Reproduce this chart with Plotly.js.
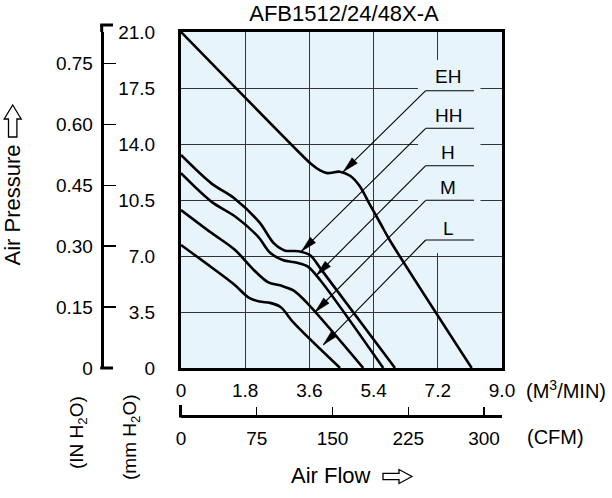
<!DOCTYPE html>
<html><head><meta charset="utf-8">
<script src="https://cdn.plot.ly/plotly-3.0.1.min.js"></script>
<style>html,body{margin:0;padding:0;background:#fff}#chart{width:612px;height:498px}</style>
</head><body><div id="chart"></div>
<script>
// ---- data (flow in m3/min, static pressure in mmH2O) ----
const curveNames = ['EH', 'HH', 'H', 'M', 'L'];
const flowEH = [0, 3.3, 3.65, 3.9, 4.1, 4.45, 4.75, 5.0, 5.3, 5.6, 5.85, 8.15];
const presEH = [21, 13.5, 12.75, 12.35, 12.18, 12.27, 12.0, 11.4, 10.2, 9.0, 8.0, 0];
const flowHH = [0, 0.85, 1.5, 2.2, 2.6, 2.9, 3.3, 3.62, 3.95, 6.0];
const presHH = [13.31, 11.54, 10.6, 9.1, 7.8, 7.35, 7.3, 7.05, 6.1, 0];
const flowH = [0, 0.85, 1.5, 2.16, 2.5, 2.85, 3.25, 3.55, 3.9, 5.67];
const presH = [12.17, 10.4, 9.5, 8.21, 7.2, 6.75, 6.58, 6.35, 5.5, 0];
const flowM = [0, 0.85, 1.5, 2.1, 2.45, 2.8, 3.15, 3.5, 5.11];
const presM = [9.875, 8.45, 7.4, 6.0, 5.35, 5.15, 4.85, 4.15, 0];
const flowL = [0, 0.85, 1.5, 1.9, 2.2, 2.5, 2.8, 3.15, 4.46];
const presL = [7.69, 6.3, 5.2, 4.4, 4.15, 4.07, 3.8, 2.85, 0];

// label call-outs: arrow tip on each curve (m3/min, mmH2O)
const tipFlow = [4.55, 3.38, 3.80, 3.76, 3.99];
const tipPres = [12.27, 7.3, 5.8, 3.5, 1.45];

// ticks
const mmTicks = [0, 3.5, 7, 10.5, 14, 17.5, 21];
const mmTickText = ['0', '3.5', '7.0', '10.5', '14.0', '17.5', '21.0'];
const inTicks = [0, 0.15, 0.30, 0.45, 0.60, 0.75];
const inTickText = ['0', '0.15', '0.30', '0.45', '0.60', '0.75'];
const m3Ticks = [0, 1.8, 3.6, 5.4, 7.2, 9];
const m3TickText = ['0', '1.8', '3.6', '5.4', '7.2', '9.0'];
const cfmTicks = [0, 75, 150, 225, 300];
const cfmTickText = ['0', '75', '150', '225', '300'];

const MM_PER_IN = 25.4, CFM_PER_M3MIN = 35.3147;
const XMAX = 9, YMAX = 21;

// ---- layout geometry ----
const W = 612, H = 498;
const M = {l: 60, r: 110, t: 20, b: 50};
const pw = W - M.l - M.r, ph = H - M.t - M.b;
const px2paperX = p => (p - M.l) / pw;
const px2paperY = p => (H - M.b - p) / ph;
const plotL = 181, plotR = 502, plotT = 32, plotB = 368;
const xToPx = v => plotL + v / XMAX * (plotR - plotL);
const yToPx = v => plotB - v / YMAX * (plotB - plotT);
const pxToX = p => (p - plotL) / (plotR - plotL) * XMAX;
const pxToY = p => (plotB - p) / (plotB - plotT) * YMAX;

const BG = '#e8f4fc';
const font = {family: 'Liberation Sans, Arial, Helvetica, sans-serif', size: 19, color: '#000'};

const flows = [flowEH, flowHH, flowH, flowM, flowL];
const press = [presEH, presHH, presH, presM, presL];
const traces = curveNames.map((n, i) => ({
  type: 'scatter', mode: 'lines', name: n, x: flows[i], y: press[i],
  line: {color: '#000', width: 2.6, shape: 'spline', smoothing: 0.9},
  showlegend: false, hoverinfo: 'skip'
}));
// register secondary-scale subplots
traces.push({type: 'scatter', x: [null], y: [null], xaxis: 'x', yaxis: 'y2', showlegend: false, hoverinfo: 'skip'});
traces.push({type: 'scatter', x: [null], y: [null], xaxis: 'x2', yaxis: 'y', showlegend: false, hoverinfo: 'skip'});

const shapes = [];
// gap in grid behind the call-out labels
shapes.push({type: 'rect', xref: 'x', yref: 'y', layer: 'between',
  x0: pxToX(418), x1: pxToX(480.5), y0: pxToY(253), y1: pxToY(60),
  fillcolor: BG, line: {width: 0}});

const labelX0 = pxToX(425.7), labelX1 = pxToX(474), labelCX = pxToX(448);
const leaderPx = [90.7, 128.3, 165.7, 200.3, 240];
const labelPx = [76, 115, 152, 187, 228];
const ARROW_LEN = 16, ARROW_HALF = 3.8;
const annotations = [];
curveNames.forEach((n, i) => {
  const ly = pxToY(leaderPx[i]);
  shapes.push({type: 'line', xref: 'x', yref: 'y', x0: labelX0, x1: labelX1, y0: ly, y1: ly, line: {color: '#000', width: 1.1}});
  shapes.push({type: 'line', xref: 'x', yref: 'y', x0: labelX0, y0: ly, x1: tipFlow[i], y1: tipPres[i], line: {color: '#000', width: 1.1}});
  const dx = xToPx(labelX0) - xToPx(tipFlow[i]);
  const dy = yToPx(tipPres[i]) - yToPx(ly);
  const d = Math.hypot(dx, dy), ux = dx / d, uy = dy / d;
  const bx = ux * ARROW_LEN, by = uy * ARROW_LEN;
  const p1 = [bx - uy * ARROW_HALF, by + ux * ARROW_HALF];
  const p2 = [bx + uy * ARROW_HALF, by - ux * ARROW_HALF];
  shapes.push({type: 'path', xref: 'x', yref: 'y', xsizemode: 'pixel', ysizemode: 'pixel',
    xanchor: tipFlow[i], yanchor: tipPres[i],
    path: `M0,0 L${p1[0].toFixed(2)},${p1[1].toFixed(2)} L${p2[0].toFixed(2)},${p2[1].toFixed(2)} Z`,
    fillcolor: '#000', line: {color: '#000', width: 0.5}});
  annotations.push({xref: 'x', yref: 'y', x: labelCX, y: pxToY(labelPx[i]), text: n, showarrow: false,
    xanchor: 'center', yanchor: 'middle', font: {size: 19}});
});

// inH2O axis hooks
const inAxX = px2paperX(101.7);
const paperLine = (xa, ya, xb, yb, w) => ({type: 'line', xref: 'paper', yref: 'paper',
  x0: px2paperX(xa), y0: px2paperY(ya), x1: px2paperX(xb), y1: px2paperY(yb), line: {color: '#000', width: w}});
shapes.push(paperLine(101.7, 32, 101.7, 25, 3));
shapes.push(paperLine(100.2, 25, 113, 25, 3));
shapes.push(paperLine(100.2, 368, 113, 368, 3));
// CFM axis hook
shapes.push(paperLine(180.5, 417.5, 180.5, 405, 3));

// outlined direction arrows next to the axis titles
const paperPath = pts => 'M' + pts.map(p => px2paperX(p[0]).toFixed(5) + ',' + px2paperY(p[1]).toFixed(5)).join(' L') + ' Z';
shapes.push({type: 'path', xref: 'paper', yref: 'paper', fillcolor: '#fff', line: {color: '#000', width: 1.3},
  path: paperPath([[12.7, 105], [21.2, 119], [16.9, 119], [16.9, 137], [8.5, 137], [8.5, 119], [4.2, 119]])});
shapes.push({type: 'path', xref: 'paper', yref: 'paper', fillcolor: '#fff', line: {color: '#000', width: 1.3},
  path: paperPath([[412, 476.5], [399, 483.5], [399, 479.7], [383, 479.7], [383, 473.3], [399, 473.3], [399, 469.5]])});

annotations.push(
  {xref: 'paper', yref: 'paper', x: px2paperX(12.5), y: px2paperY(205), text: 'Air Pressure', textangle: -90, showarrow: false, xanchor: 'center', yanchor: 'middle', font: {size: 22}},
  {xref: 'paper', yref: 'paper', x: px2paperX(78), y: px2paperY(433), text: '(IN H<sub>2</sub>O)', textangle: -90, showarrow: false, xanchor: 'center', yanchor: 'middle', font: {size: 19}},
  {xref: 'paper', yref: 'paper', x: px2paperX(131), y: px2paperY(437), text: '(mm H<sub>2</sub>O)', textangle: -90, showarrow: false, xanchor: 'center', yanchor: 'middle', font: {size: 19}},
  {xref: 'paper', yref: 'paper', x: px2paperX(524), y: px2paperY(389), text: '(M<sup>3</sup>/MIN)', showarrow: false, xanchor: 'left', yanchor: 'middle', font: {size: 20}},
  {xref: 'paper', yref: 'paper', x: px2paperX(525), y: px2paperY(437), text: '(CFM)', showarrow: false, xanchor: 'left', yanchor: 'middle', font: {size: 20}},
  {xref: 'paper', yref: 'paper', x: px2paperX(331), y: px2paperY(475), text: 'Air Flow', showarrow: false, xanchor: 'center', yanchor: 'middle', font: {size: 22}}
);

const layout = {
  width: W, height: H, margin: M,
  paper_bgcolor: '#fff', plot_bgcolor: BG, font: font, showlegend: false,
  title: {text: 'AFB1512/24/48X-A', font: {size: 22}, xref: 'container', yref: 'container',
    x: 344 / W, xanchor: 'center', y: 1 - 13 / H, yanchor: 'middle'},
  xaxis: {domain: [px2paperX(plotL), px2paperX(plotR)], range: [0, XMAX], tickvals: m3Ticks, ticktext: m3TickText,
    showgrid: true, gridcolor: '#333', gridwidth: 1, zeroline: false, showline: true, mirror: true,
    linecolor: '#000', linewidth: 3, ticks: '', ticklabelstandoff: 3, fixedrange: true},
  yaxis: {domain: [px2paperY(plotB), px2paperY(plotT)], range: [0, YMAX], tickvals: mmTicks, ticktext: mmTickText,
    showgrid: true, gridcolor: '#333', gridwidth: 1, zeroline: false, showline: true, mirror: true,
    linecolor: '#000', linewidth: 3, ticks: '', ticklabelstandoff: 19, fixedrange: true},
  yaxis2: {overlaying: 'y', anchor: 'free', position: inAxX, side: 'left', range: [0, YMAX / MM_PER_IN],
    tickvals: inTicks, ticktext: inTickText, showgrid: false, zeroline: false, showline: true,
    linecolor: '#000', linewidth: 3, ticks: 'inside', ticklen: 12, tickwidth: 1.2, tickcolor: '#000',
    ticklabelstandoff: 4, fixedrange: true},
  xaxis2: {overlaying: 'x', anchor: 'free', position: px2paperY(416), side: 'bottom', range: [0, XMAX * CFM_PER_M3MIN],
    tickvals: cfmTicks, ticktext: cfmTickText, showgrid: false, zeroline: false, showline: true,
    linecolor: '#000', linewidth: 3, ticks: 'inside', ticklen: 8, tickwidth: 1.2, tickcolor: '#000',
    ticklabelstandoff: 4, fixedrange: true},
  shapes: shapes, annotations: annotations
};

Plotly.newPlot('chart', traces, layout, {displayModeBar: false, staticPlot: true});
</script>
</body></html>
